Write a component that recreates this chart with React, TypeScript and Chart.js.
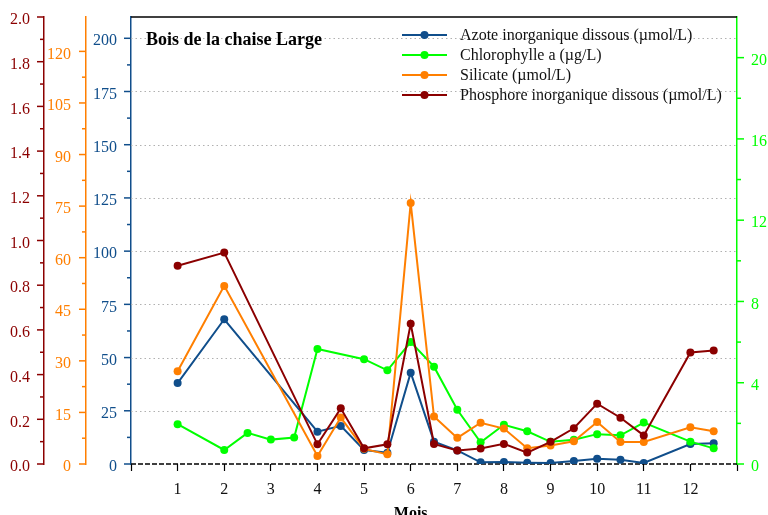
import React, { useEffect, useRef } from "react";
import { Chart, registerables } from "chart.js";

Chart.register(...registerables);

const SERIF = '"Liberation Serif", "Times New Roman", serif';

const BLUE = "#104E8B";
const GREEN = "#00FF00";
const ORANGE = "#FF7F00";
const DARKRED = "#8B0000";

// Month positions (half-month samples included)
const moisTicks = [1, 2, 3, 4, 5, 6, 7, 8, 9, 10, 11, 12];
const nutrientMois = [1, 2, 4, 4.5, 5, 5.5, 6, 6.5, 7, 7.5, 8, 8.5, 9, 9.5, 10, 10.5, 11, 12, 12.5];
const chloroMois = [1, 2, 2.5, 3, 3.5, 4, 5, 5.5, 6, 6.5, 7, 7.5, 8, 8.5, 9, 9.5, 10, 10.5, 11, 12, 12.5];

// Series values
const azoteValues = [38, 68, 15.2, 17.9, 6.6, 5.3, 42.9, 10.5, 6.4, 0.8, 0.9, 0.6, 0.5, 1.4, 2.5, 2.0, 0.5, 9.4, 9.8];
const silicateValues = [27.0, 51.8, 2.3, 13.5, 4.4, 2.8, 75.9, 13.8, 7.6, 12.0, 10.3, 4.6, 5.4, 6.6, 12.2, 6.4, 6.4, 10.7, 9.5];
const phosphoreValues = [0.887, 0.946, 0.088, 0.249, 0.07, 0.088, 0.627, 0.09, 0.06, 0.069, 0.09, 0.051, 0.099, 0.16, 0.27, 0.207, 0.128, 0.499, 0.508];
const chloroValues = [1.96, 0.69, 1.53, 1.2, 1.3, 5.66, 5.16, 4.61, 6.0, 4.79, 2.67, 1.07, 1.93, 1.61, 1.09, 1.19, 1.47, 1.41, 2.04, 1.1, 0.77];

// Axis tick labels
const azoteTicks = [0, 25, 50, 75, 100, 125, 150, 175, 200];
const silicateTicks = [0, 15, 30, 45, 60, 75, 90, 105, 120];
const phosphoreTicks = [0, 0.2, 0.4, 0.6, 0.8, 1.0, 1.2, 1.4, 1.6, 1.8, 2.0];
const chloroTicks = [0, 4, 8, 12, 16, 20];

const TITLE = "Bois de la chaise Large";
const X_TITLE = "Mois";

const toPoints = (xs: number[], ys: number[]) => xs.map((x, i) => ({ x, y: ys[i] }));

const setTicks = (values: number[]) => (scale: any) => {
  scale.ticks = values.map((v) => ({ value: v }));
};

// Fixed axis width; label overflow must not shrink the plot area
const fixWidth = (w: number) => (scale: any) => {
  scale.width = w;
  scale.paddingTop = 0;
  scale.paddingBottom = 0;
};

// Frame: dotted grid, dashed zero line, top border
const framePlugin = {
  id: "frame",
  beforeDatasetsDraw(chart: any) {
    const { ctx, chartArea } = chart;
    const yN = chart.scales.yN;
    ctx.save();
    ctx.strokeStyle = "#b0b0b0";
    ctx.lineWidth = 1;
    ctx.setLineDash([1.5, 3]);
    azoteTicks.forEach((v) => {
      if (v === 0) return;
      const y = Math.round(yN.getPixelForValue(v)) + 0.5;
      ctx.beginPath();
      ctx.moveTo(chartArea.left, y);
      ctx.lineTo(chartArea.right, y);
      ctx.stroke();
    });
    ctx.strokeStyle = "#000";
    ctx.lineWidth = 1.5;
    ctx.setLineDash([5, 2]);
    const y0 = yN.getPixelForValue(0);
    ctx.beginPath();
    ctx.moveTo(chartArea.left, y0);
    ctx.lineTo(chartArea.right, y0);
    ctx.stroke();
    ctx.setLineDash([]);
    ctx.lineWidth = 1.5;
    ctx.beginPath();
    ctx.moveTo(chartArea.left, chartArea.top);
    ctx.lineTo(chartArea.right, chartArea.top);
    ctx.stroke();
    ctx.restore();
  },
};

// Major and minor tick marks on the value axes
const axisTicksPlugin = {
  id: "axisTicks",
  afterDraw(chart: any) {
    const { ctx } = chart;
    const defs: [string, number[], string, boolean][] = [
      ["yN", azoteTicks, BLUE, true],
      ["yS", silicateTicks, ORANGE, true],
      ["yP", phosphoreTicks, DARKRED, true],
      ["yC", chloroTicks, GREEN, false],
    ];
    ctx.save();
    defs.forEach(([id, ticks, color, left]) => {
      const s = chart.scales[id];
      const edge = left ? s.right : s.left;
      const dir = left ? -1 : 1;
      ctx.strokeStyle = color;
      ctx.lineWidth = 1.5;
      const mark = (v: number, len: number) => {
        const y = s.getPixelForValue(v);
        ctx.beginPath();
        ctx.moveTo(edge, y);
        ctx.lineTo(edge + dir * len, y);
        ctx.stroke();
      };
      ticks.forEach((v, i) => {
        mark(v, 7);
        if (i < ticks.length - 1) mark((v + ticks[i + 1]) / 2, 4);
      });
    });
    ctx.restore();
  },
};

// Title, legend and x-axis title
const annotationsPlugin = {
  id: "annotations",
  afterDraw(chart: any) {
    const { ctx, chartArea } = chart;
    ctx.save();
    ctx.fillStyle = "#000";
    ctx.font = `bold 18px ${SERIF}`;
    ctx.textAlign = "left";
    ctx.textBaseline = "alphabetic";
    ctx.fillText(TITLE, chartArea.left + 15, 45);

    const lx0 = chartArea.left + 271;
    const lx1 = lx0 + 45;
    ctx.font = `16px ${SERIF}`;
    ctx.textBaseline = "middle";
    chart.data.datasets.forEach((ds: any, i: number) => {
      const y = 35 + i * 20;
      ctx.strokeStyle = ds.borderColor;
      ctx.lineWidth = 2;
      ctx.beginPath();
      ctx.moveTo(lx0, y);
      ctx.lineTo(lx1, y);
      ctx.stroke();
      ctx.fillStyle = ds.borderColor;
      ctx.beginPath();
      ctx.arc((lx0 + lx1) / 2, y, 4, 0, Math.PI * 2);
      ctx.fill();
      ctx.fillStyle = "#111";
      ctx.fillText(ds.label, lx1 + 13, y + 1);
    });

    const xs = chart.scales.x;
    ctx.font = `bold 16px ${SERIF}`;
    ctx.textAlign = "center";
    ctx.textBaseline = "alphabetic";
    ctx.fillStyle = "#000";
    ctx.fillText(X_TITLE, xs.getPixelForValue(6), 518);
    ctx.restore();
  },
};

const tickFont = { family: SERIF, size: 16 };

export default function App() {
  const canvasRef = useRef<HTMLCanvasElement | null>(null);

  useEffect(() => {
    if (!canvasRef.current) return;
    const line = (label: string, xs: number[], ys: number[], color: string, axis: string, order: number) => ({
      label,
      data: toPoints(xs, ys),
      yAxisID: axis,
      borderColor: color,
      backgroundColor: color,
      pointBackgroundColor: color,
      pointBorderColor: color,
      pointBorderWidth: 0,
      pointRadius: 4,
      borderWidth: 2,
      tension: 0,
      order,
    });

    const chart = new Chart(canvasRef.current, {
      type: "line",
      data: {
        datasets: [
          line("Azote inorganique dissous (µmol/L)", nutrientMois, azoteValues, BLUE, "yN", 4),
          line("Chlorophylle a (µg/L)", chloroMois, chloroValues, GREEN, "yC", 3),
          line("Silicate (µmol/L)", nutrientMois, silicateValues, ORANGE, "yS", 2),
          line("Phosphore inorganique dissous (µmol/L)", nutrientMois, phosphoreValues, DARKRED, "yP", 1),
        ],
      },
      plugins: [framePlugin, axisTicksPlugin, annotationsPlugin],
      options: {
        animation: false,
        responsive: false,
        maintainAspectRatio: false,
        layout: { padding: { top: 17, left: 0, right: 0, bottom: 0 } },
        plugins: { legend: { display: false }, tooltip: { enabled: false }, title: { display: false } },
        scales: {
          x: {
            type: "linear",
            position: "bottom",
            min: 0,
            max: 13,
            afterBuildTicks: setTicks([0, ...moisTicks, 13]),
            afterFit: (s: any) => {
              s.height = 51;
            },
            grid: { display: true, drawOnChartArea: false, drawTicks: true, tickLength: 7, color: "#000", tickColor: "#000", tickWidth: 1.2 },
            border: { display: false },
            ticks: {
              autoSkip: false,
              maxRotation: 0,
              padding: 9,
              color: "#111",
              font: tickFont,
              callback: (v: any) => (moisTicks.includes(Number(v)) ? String(v) : ""),
            },
          },
          yN: {
            type: "linear",
            position: "left",
            weight: 0,
            min: 0,
            max: 210,
            afterBuildTicks: setTicks(azoteTicks),
            afterFit: fixWidth(45),
            grid: { display: false, drawTicks: false },
            border: { display: true, color: BLUE, width: 1.5 },
            ticks: { padding: 14, labelOffset: 3, color: BLUE, font: tickFont, callback: (v: any) => String(v) },
          },
          yS: {
            type: "linear",
            position: "left",
            weight: 1,
            min: 0,
            max: 130,
            afterBuildTicks: setTicks(silicateTicks),
            afterFit: fixWidth(42),
            grid: { display: false, drawTicks: false },
            border: { display: true, color: ORANGE, width: 1.5 },
            ticks: { padding: 15, labelOffset: 3, color: ORANGE, font: tickFont, callback: (v: any) => String(v) },
          },
          yP: {
            type: "linear",
            position: "left",
            weight: 2,
            min: 0,
            max: 2,
            afterBuildTicks: setTicks(phosphoreTicks),
            afterFit: fixWidth(44),
            grid: { display: false, drawTicks: false },
            border: { display: true, color: DARKRED, width: 1.5 },
            ticks: { padding: 14, labelOffset: 3, color: DARKRED, font: tickFont, callback: (v: any) => Number(v).toFixed(1) },
          },
          yC: {
            type: "linear",
            position: "right",
            min: 0,
            max: 22,
            afterBuildTicks: setTicks(chloroTicks),
            afterFit: fixWidth(31),
            grid: { display: false, drawTicks: false },
            border: { display: true, color: GREEN, width: 1.5 },
            ticks: { padding: 14, labelOffset: 3, color: GREEN, font: tickFont, callback: (v: any) => String(v) },
          },
        },
      },
    });
    return () => chart.destroy();
  }, []);

  return (
    <div style={{ position: "fixed", left: 0, top: 0, width: 768, height: 515, background: "#fff" }}>
      <canvas ref={canvasRef} width={768} height={515} style={{ display: "block", width: 768, height: 515 }} />
    </div>
  );
}
